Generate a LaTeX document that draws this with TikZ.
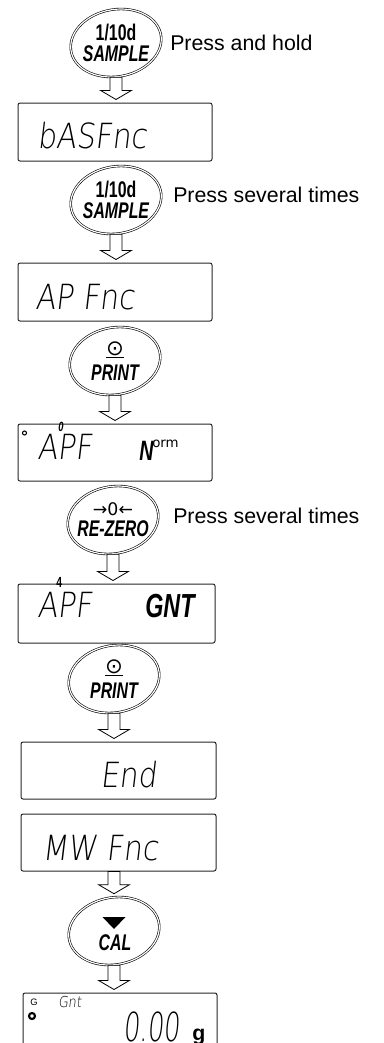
\documentclass[tikz,border=0pt]{standalone}
\usepackage{fontspec}
\setmainfont{Liberation Sans}
\newfontfamily\keyfont{Liberation Sans}[FakeStretch=0.7]
\newfontfamily\segfont{DejaVu Sans ExtraLight}[FakeSlant=0.12,FakeStretch=0.85]
\newfontfamily\symfont{DejaVu Sans}
\usetikzlibrary{shapes.geometric,calc}
\tikzset{
  keyb/.style={ellipse, minimum width=67.5pt, minimum height=51pt, inner sep=0pt, align=center, font=\keyfont\fontsize{17}{16}\selectfont},
  keyline/.style={draw=black, line width=0.45pt, double=white, double distance=0.9pt},
  disp/.style={draw=black!85, line width=0.75pt, rounded corners=1.5pt, rectangle, inner sep=0pt},
  seg/.style={font=\segfont\fontsize{26}{26}\selectfont, inner sep=0pt, anchor=base west},
  note/.style={font=\fontsize{16}{18}\selectfont, inner sep=0pt, anchor=base west},
  blockarrow/.style={draw=black, line width=0.6pt, fill=white, line join=miter},
}
\newcommand\blockarr[3]{%
  \draw[blockarrow] let \p1=(#1), \p2=(#2), \p3=(#3) in
    (\x3-4.5pt,\y1) -- (\x3+4.5pt,\y1) -- (\x3+4.5pt,\y2+9pt) -- (\x3+11.5pt,\y2+9pt)
    -- (\x3,\y2+2.25pt) -- (\x3-11.5pt,\y2+9pt) -- (\x3-4.5pt,\y2+9pt) -- cycle;}
\begin{document}
\begin{tikzpicture}[x=0.75pt,y=-0.75pt]
\useasboundingbox (0,0) rectangle (384,1043);
\clip (0,0) rectangle (384,1043);

% keys
\node[keyb] (b1) at (116,43) {{\bfseries 1/10d}\\{\bfseries\itshape SAMPLE}};
\node[keyb] (b2) at (116,200) {{\bfseries 1/10d}\\{\bfseries\itshape SAMPLE}};
\node[keyb] (b3) at (115,361) {{\symfont\fontsize{16}{16}\selectfont\underline{⊙}}\\[3pt]{\bfseries\itshape PRINT}};
\node[keyb] (b4) at (113,520) {{\symfont\fontsize{13}{13}\selectfont →0←}\\{\bfseries\itshape RE-ZERO}};
\node[keyb] (b5) at (114,679) {{\symfont\fontsize{16}{16}\selectfont\underline{⊙}}\\[3pt]{\bfseries\itshape PRINT}};
\node[keyb] (b6) at (114,931) {};
\foreach \n in {b1,b2,b3,b4,b5,b6}
  \draw[keyline, shift={(\n.center)}, xslant=0.15] (0,0) ellipse (33.75pt and 25.5pt);
\fill ($(b6.center)+(-11.5,-14)$) -- ++(23,0) -- ++(-11.5,12) -- cycle;
\node[font=\keyfont\fontsize{17}{16}\selectfont\bfseries\itshape, inner sep=0pt] (cal) at ($(b6.center)+(1,12)$) {CAL};

% notes
\node[note] (n1) at (170,50) {Press and hold};
\node[note] (n2) at (173,202) {Press several times};
\node[note] (n3) at (173,523) {Press several times};

% displays
\node[disp, minimum width=145.5pt, minimum height=43.5pt] (d1) at (115,132) {};
\node[disp, minimum width=145.5pt, minimum height=43.5pt] (d2) at (115,292) {};
\node[disp, minimum width=145.5pt, minimum height=42.75pt] (d3) at (115,452.5) {};
\node[disp, minimum width=147.75pt, minimum height=44.25pt] (d4) at (116.5,613.5) {};
\node[disp, minimum width=146.25pt, minimum height=42.75pt] (d5) at (118.5,770.5) {};
\node[disp, minimum width=146.25pt, minimum height=42.75pt] (d6) at (118.5,842.5) {};
\node[disp, minimum width=145.5pt, minimum height=43.5pt] (d7) at (120,1022) {};

% display texts
\node[seg] (t1) at (37,148) {bASFnc};
\node[seg] (t2) at (35,309) {AP Fnc};
\node[seg] (t3) at (37,459) {APF};
\node[inner sep=0pt, anchor=base west, font=\keyfont\fontsize{10}{10}\selectfont\bfseries\itshape] (t3a) at (58,431) {0};
\node[inner sep=0pt, anchor=base west, font=\keyfont\fontsize{21}{21}\selectfont\bfseries\itshape] (t3b) at (139,460) {N};
\node[inner sep=0pt, anchor=base west, font=\symfont\fontsize{10}{10}\selectfont] (t3c) at (152,447) {orm};
\draw[line width=0.8pt] (24.5,433) circle (2);
\node[inner sep=0pt, anchor=base west, font=\keyfont\fontsize{11}{11}\selectfont\bfseries] (t4a) at (56,587) {4};
\node[seg] (t4) at (37,617) {APF};
\node[inner sep=0pt, anchor=base west, font=\keyfont\fontsize{25}{25}\selectfont\bfseries\itshape] (t4b) at (145,617) {GNT};
\node[seg] (t5) at (100,787) {End};
\node[seg] (t6) at (42,860) {MW Fnc};
\node[inner sep=0pt, anchor=base west, font=\fontsize{7}{7}\selectfont] (t7a) at (30,1005) {G};
\node[inner sep=0pt, anchor=base west, font=\segfont\fontsize{11.3}{12}\selectfont] (t7b) at (58,1007) {Gnt};
\node[inner sep=0pt, anchor=base west, font=\segfont\fontsize{30}{30}\selectfont] (t7c) at (123,1041) {\scalebox{0.75}[1]{0.00}};
\node[inner sep=0pt, anchor=base west, font=\fontsize{16}{16}\selectfont\bfseries] (t7d) at (192,1040) {g};
\draw[line width=1.6pt] (32,1016) circle (3);

% arrows
\blockarr{b1.south}{d1.north}{b1}
\blockarr{b2.south}{d2.north}{b2}
\blockarr{b3.south}{d3.north}{b3}
\blockarr{b4.south}{d4.north}{b4}
\blockarr{b5.south}{d5.north}{b5}
\blockarr{d6.south}{b6.north}{b6}
\blockarr{b6.south}{d7.north}{b6}
\end{tikzpicture}
\end{document}
